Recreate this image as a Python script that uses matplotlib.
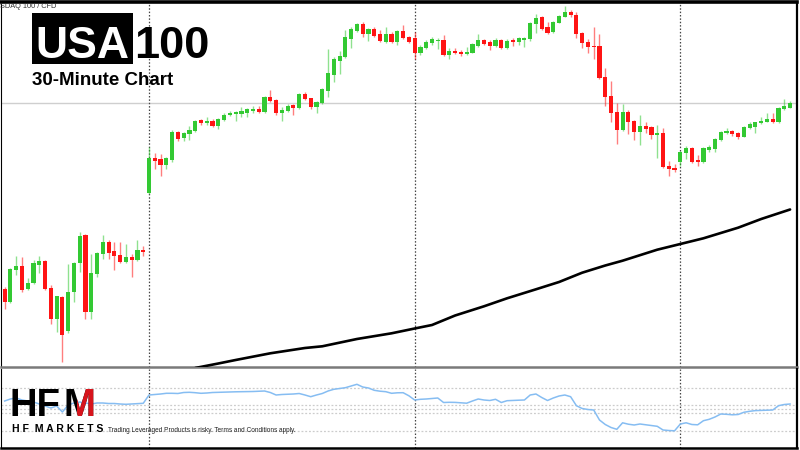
import matplotlib
matplotlib.use('Agg')
import matplotlib.pyplot as plt
from matplotlib.patches import Rectangle
import numpy as np

plt.rcParams['font.family'] = ['Liberation Sans', 'DejaVu Sans']

# ---------------- data (relative price points, 30-minute candles) ----------------
opens = [111, 98, 130, 134, 111, 117, 135, 139, 112, 81,
         103, 69, 108, 137, 165, 88, 126, 146, 158, 149,
         145, 138, 143, 140, 150, 207, 242, 241, 235, 240,
         268, 262, 266, 269, 280, 277, 279, 274, 280, 285,
         286, 286, 287, 289, 291, 288, 303, 300, 287, 289,
         295, 292, 306, 302, 293, 297, 309, 325, 339, 343,
         361, 369, 376, 366, 371, 366, 358, 366, 358, 369,
         363, 362, 347, 352, 357, 359, 360, 345, 349, 348,
         346, 347, 354, 360, 358, 354, 360, 352, 360, 358,
         360, 361, 376, 383, 373, 368, 377, 383, 388, 385,
         367, 358, 354, 354, 323, 304, 288, 270, 288, 279,
         268, 274, 273, 265, 267, 234, 232, 238, 247, 252,
         240, 238, 250, 251, 260, 267, 269, 267, 263, 272,
         273, 277, 278, 281, 278, 291, 292]
closes = [98, 131, 134, 110, 117, 137, 139, 111, 81, 104,
          65, 108, 137, 164, 88, 127, 147, 158, 147, 144,
          138, 143, 140, 150, 148, 242, 239, 235, 242, 268,
          261, 267, 270, 279, 277, 279, 274, 281, 285, 287,
          288, 289, 291, 291, 288, 303, 299, 287, 290, 294,
          292, 306, 301, 293, 298, 311, 327, 341, 344, 363,
          371, 376, 366, 371, 364, 359, 366, 358, 369, 362,
          358, 347, 353, 358, 361, 360, 345, 349, 347, 346,
          348, 356, 360, 356, 354, 360, 352, 359, 358, 362,
          362, 377, 382, 371, 367, 378, 384, 388, 385, 366,
          357, 353, 353, 322, 303, 287, 270, 288, 278, 268,
          274, 271, 265, 267, 233, 231, 230, 248, 252, 238,
          238, 252, 253, 261, 268, 269, 266, 263, 273, 276,
          278, 279, 281, 278, 292, 294, 297]
highs = [113, 132, 144, 143, 122, 140, 144, 140, 115, 104,
         104, 136, 138, 168, 166, 146, 148, 165, 160, 158,
         158, 156, 146, 160, 154, 253, 247, 246, 243, 270,
         269, 268, 274, 280, 281, 283, 281, 282, 287, 289,
         289, 293, 292, 294, 294, 304, 310, 301, 293, 296,
         296, 307, 308, 302, 299, 312, 351, 343, 349, 370,
         373, 377, 378, 372, 373, 370, 373, 368, 370, 375,
         364, 368, 355, 360, 363, 362, 365, 352, 352, 350,
         353, 357, 366, 361, 360, 362, 361, 361, 362, 363,
         363, 378, 386, 384, 378, 379, 385, 394, 390, 388,
         368, 361, 373, 366, 332, 319, 297, 296, 290, 280,
         285, 278, 274, 275, 272, 239, 236, 249, 254, 253,
         245, 253, 255, 262, 269, 272, 270, 268, 274, 278,
         278, 283, 287, 287, 293, 301, 299]
lows = [91, 97, 125, 108, 110, 116, 127, 110, 76, 68,
        38, 67, 98, 128, 81, 81, 123, 141, 141, 130,
        137, 137, 123, 139, 144, 206, 231, 224, 231, 238,
        259, 259, 260, 268, 275, 275, 273, 271, 279, 284,
        279, 283, 283, 287, 287, 287, 298, 285, 279, 288,
        285, 291, 300, 291, 287, 296, 303, 318, 326, 342,
        352, 368, 363, 359, 363, 358, 357, 357, 355, 361,
        357, 341, 345, 351, 355, 351, 344, 341, 346, 344,
        345, 347, 353, 355, 350, 353, 351, 351, 354, 355,
        353, 359, 367, 370, 366, 367, 377, 383, 383, 362,
        352, 347, 341, 321, 294, 278, 256, 269, 266, 260,
        255, 267, 261, 242, 232, 224, 228, 234, 241, 237,
        234, 237, 248, 248, 259, 266, 264, 261, 263, 271,
        267, 276, 278, 277, 277, 290, 292]

# long moving average (black line), read at selected candles
ma_idx = [33, 37, 40, 46, 52, 55, 61, 67, 71, 74, 78, 83, 87, 92, 96,
          100, 104, 107, 113, 117, 121, 127, 131, 136]
ma_val = [32.0, 36.5, 40, 46.7, 52, 53.7, 61, 66.7, 71.5, 75, 84.5, 93.7,
          101.7, 110.7, 118, 127.3, 134.5, 139.3, 150.3, 156, 161.7, 172.3,
          181, 190.5]

# oscillator (light blue line in lower panel)
osc = [49, 51, 52, 50, 49, 48, 46, 44, 42, 44,
       38, 45, 47, 48, 47, 46, 47, 47, 46.5, 46.5,
       46, 45.7, 46, 46.3, 46.7, 55, 55.5, 56, 56.7, 56.7,
       56.5, 57.5, 57.7, 57.3, 56.7, 57, 57.5, 57.7, 58, 58.2,
       58.2, 58.3, 58.5, 58.5, 58.8, 59, 57.5, 55, 55.5, 55.7,
       56, 56.5, 55, 53.3, 55, 56.5, 59, 60.7, 61.5, 62.3,
       64, 65.7, 63, 62, 59.7, 58.8, 58.3, 56.7, 57.2, 57.3,
       54.2, 50, 50.7, 51, 51.5, 52, 47.5, 47.7, 47.6, 47.2,
       46.8, 49, 51, 50, 49.5, 50.7, 47.5, 49.3, 49.6, 49.8,
       50, 55, 56, 52.5, 49.5, 52, 54, 55, 53.3, 44.3,
       41.5, 40.5, 40, 30, 25.5, 22.5, 20.7, 27.2, 25.8, 25,
       26, 25.2, 24.5, 23.7, 20, 19.5, 19.2, 26, 27.2, 25.5,
       25.2, 29.3, 30.7, 33, 36, 35.7, 35.2, 35.5, 37.7, 38.7,
       39.4, 39.6, 39.8, 40, 44.3, 45.5, 46]
osc_levels = [62, 45, 41, 37, 19]

session_breaks = [25, 71, 117]   # first candle of each new day
last_price = 297

# ---------------- figure ----------------
W, H = 800, 450
fig = plt.figure(figsize=(8, 4.5), dpi=100)
fig.patch.set_facecolor('white')

def fr(x0, y0, x1, y1):
    return [x0 / W, 1 - y1 / H, (x1 - x0) / W, (y1 - y0) / H]

ax = fig.add_axes(fr(1, 2, 797, 367))
ax2 = fig.add_axes(fr(1, 369, 797, 448))

n = len(opens)
x = np.arange(n)
xlim = (-0.63, 137.2)

GREEN = '#33c933'
RED = '#ff1414'

o = np.array(opens, float); c = np.array(closes, float)
h = np.array(highs, float); l = np.array(lows, float)
up = c >= o
cols = np.where(up, GREEN, RED)

ax.axhline(last_price, color='#cfcfcf', lw=1.0, zorder=1)
for b in session_breaks:
    ax.axvline(b, color='#444444', lw=0.9, ls=(0, (1.2, 1.5)), zorder=1)
    ax2.axvline(b, color='#444444', lw=0.9, ls=(0, (1.2, 1.5)), zorder=1)

ax.vlines(x, l, h, colors=cols, lw=1.0, alpha=0.55, zorder=2)
body_h = np.where(np.abs(c - o) < 1.2, 1.2, np.abs(c - o))
ax.bar(x, body_h, bottom=np.minimum(o, c), width=0.72, color=cols,
       edgecolor='none', zorder=3)

ax.plot(ma_idx, ma_val, color='black', lw=1.9, zorder=4,
        solid_capstyle='round', solid_joinstyle='round')

ax.set_xlim(*xlim)
ax.set_ylim(33, 398)
ax.set_xticks([]); ax.set_yticks([])
for s in ['top', 'left', 'right', 'bottom']:
    ax.spines[s].set_color('black')
ax.spines['top'].set_linewidth(2.6)
ax.spines['left'].set_linewidth(0.8)
ax.spines['right'].set_linewidth(1.6)
ax.spines['bottom'].set_color('#7a7a7a')
ax.spines['bottom'].set_linewidth(1.8)

# lower panel
for lv in osc_levels:
    ax2.axhline(lv, color='#cccccc', lw=0.9, ls=(0, (1.5, 1.5)), zorder=1)
ax2.plot(x, osc, color='#86bdf2', lw=1.1, zorder=2)
ax2.set_xlim(*xlim)
ax2.set_ylim(2, 81)
ax2.set_xticks([]); ax2.set_yticks([])
ax2.spines['top'].set_visible(False)
ax2.spines['left'].set_linewidth(0.8)
ax2.spines['right'].set_linewidth(1.6)
ax2.spines['bottom'].set_linewidth(1.8)

# ---------------- texts & branding ----------------
def fx(px): return px / W
def fy(py): return 1 - py / H

fig.text(fx(0.5), fy(3.2), 'SDAQ 100 / CFD', fontsize=5.3, color='#333333',
         va='top', ha='left', zorder=8)

fig.add_artist(Rectangle((fx(31.7), fy(64)), (133.3 - 31.7) / W, (64 - 12.7) / H,
                         transform=fig.transFigure, fc='black', ec='none', zorder=5))
fig.text(fx(82.3), fy(58), 'USA', fontsize=32, fontweight='bold', color='white',
         ha='center', va='baseline', zorder=6)
fig.text(fx(134), fy(58), '100', fontsize=32.5, fontweight='bold', color='black',
         ha='left', va='baseline', zorder=6)
fig.text(fx(31.5), fy(85), '30-Minute Chart', fontsize=13.5, fontweight='bold',
         color='black', ha='left', va='baseline', zorder=6)

# HFM logo
fig.text(fx(10), fy(416.5), 'HF', fontsize=27.5, fontweight='bold', color='black',
         ha='left', va='baseline', zorder=6)
fig.text(fx(64), fy(416.5), 'M', fontsize=27.5, fontweight='bold', color='black',
         ha='left', va='baseline', zorder=6)
mred = fig.text(fx(64), fy(416.5), 'M', fontsize=27.5, fontweight='bold', color='#d7141c',
                ha='left', va='baseline', zorder=7)
clip = Rectangle((fx(77), fy(422)), 30 / W, 36 / H, transform=fig.transFigure)
mred.set_clip_path(clip)
fig.text(fx(11.5), fy(432.5), 'H F  M A R K E T S', fontsize=7.6, fontweight='bold',
         color='black', ha='left', va='baseline', zorder=6)
fig.text(fx(108), fy(432),
         'Trading Leveraged Products is risky. Terms and Conditions apply.',
         fontsize=4.7, color='#222222', ha='left', va='baseline', zorder=6)

fig.savefig('out.png', dpi=100, facecolor='white')
